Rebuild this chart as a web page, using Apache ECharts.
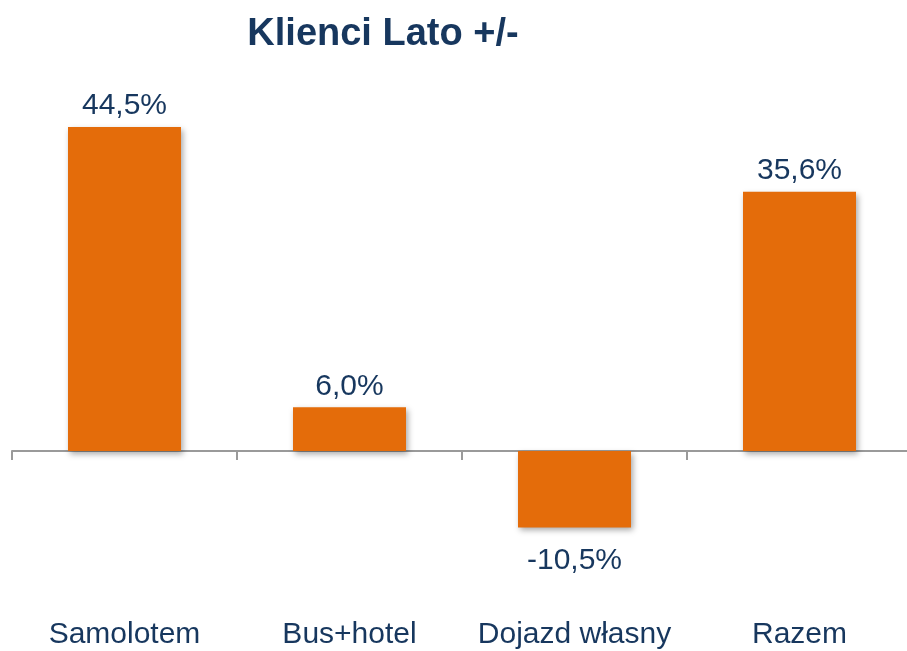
<!DOCTYPE html>
<html>
<head>
<meta charset="utf-8">
<script src="https://cdn.jsdelivr.net/npm/echarts@6/dist/echarts.min.js"></script>
<style>
  html, body { margin: 0; padding: 0; background: #fff; }
  #chart { width: 907px; height: 651px; }
</style>
</head>
<body>
<div id="chart"></div>
<script>
  // dane z wykresu
  const categories = ['Samolotem', 'Bus+hotel', 'Dojazd własny', 'Razem'];
  const values = [44.5, 6.0, -10.5, 35.6];
  const titleText = 'Klienci Lato +/-';

  const navy = '#17375E';
  const orange = '#E46C0A';
  const axisGray = '#9a9a9a';

  let chart = echarts.init(document.getElementById('chart'));

  let option = {
    backgroundColor: '#ffffff',
    animation: false,
    title: {
      text: titleText,
      left: 378,
      top: 11,
      textAlign: 'center',
      textStyle: {
        fontFamily: 'Liberation Sans',
        fontSize: 38,
        fontWeight: 'bold',
        color: navy
      }
    },
    grid: {
      left: 12,
      right: -5,
      top: 87,
      bottom: 54.4,
      containLabel: false,
      outerBoundsMode: 'none'
    },
    xAxis: [{
      // oś zerowa z kreskami
      type: 'category',
      data: categories,
      axisLine: {
        onZero: true,
        lineStyle: { color: axisGray, width: 2 }
      },
      axisTick: {
        show: true,
        alignWithLabel: false,
        length: 9,
        lineStyle: { color: axisGray, width: 2 }
      },
      axisLabel: { show: false }
    }, {
      // podpisy kategorii na dole
      type: 'category',
      data: categories,
      position: 'bottom',
      axisLine: { show: false, onZero: false },
      axisTick: { show: false },
      axisLabel: {
        margin: 23,
        fontFamily: 'Liberation Sans',
        fontSize: 30,
        color: navy,
        interval: 0
      }
    }],
    yAxis: {
      type: 'value',
      min: -20,
      max: 50,
      show: false,
      splitLine: { show: false }
    },
    series: [{
      type: 'bar',
      xAxisIndex: 0,
      barWidth: 113,
      data: values.map(v => ({
        value: v,
        label: { position: v < 0 ? 'bottom' : 'top', distance: v < 0 ? 18 : 6 }
      })),
      itemStyle: {
        color: orange,
        shadowColor: 'rgba(0,0,0,0.35)',
        shadowBlur: 6,
        shadowOffsetX: 2,
        shadowOffsetY: 3
      },
      label: {
        show: true,
        fontFamily: 'Liberation Sans',
        fontSize: 30,
        color: navy,
        formatter(p) {
          return p.value.toFixed(1).replace('.', ',') + '%'
        }
      }
    }]
  };
  chart.setOption(option);
</script>
</body>
</html>
